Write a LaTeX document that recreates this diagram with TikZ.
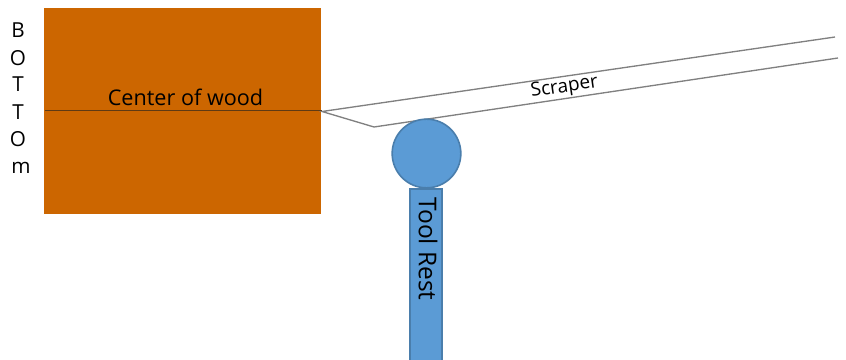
\documentclass[tikz,border=0pt]{standalone}
\usepackage{fontspec}
\setmainfont{Open Sans}
\definecolor{wood}{HTML}{CC6600}
\definecolor{restblue}{HTML}{5B9BD5}
\definecolor{restedge}{HTML}{4A7EAC}
\definecolor{scrapeline}{HTML}{808080}
\definecolor{woodline}{HTML}{5E3A14}
\tikzset{
  px/.style={x=0.75pt,y=-0.75pt},
  woodblock/.style={fill=wood,draw=none,minimum width=207.8pt,minimum height=154.5pt,inner sep=0pt,anchor=north west},
  restshape/.style={fill=restblue,draw=restedge,line width=1.2pt,inner sep=0pt},
  scraperedge/.style={draw=scrapeline,line width=1pt,line join=miter},
  label/.style={font=\fontsize{16.2pt}{19pt}\selectfont,text=black,inner sep=0pt},
  sidetext/.style={font=\fontsize{15.5pt}{18pt}\selectfont,text=black,inner sep=0pt,anchor=base}
}
\begin{document}
\begin{tikzpicture}[px]
\useasboundingbox (0,0) rectangle (846,360);
\node[woodblock] (woodbox) at (44,8) {};
\coordinate (lineL) at (45,110.5);
\coordinate (lineR) at (322,110.5);
\coordinate (tip) at (322,111.5);
\coordinate (heel) at (374,127);
\coordinate (topEnd) at (835,37);
\coordinate (lowEnd) at (838,58);
\draw[draw=woodline,line width=1pt] (lineL) -- (lineR);
\draw[scraperedge] (topEnd) -- (tip) -- (heel) -- (lowEnd);
\node[restshape,anchor=north,minimum width=24pt,minimum height=129pt] (rest) at (426,188) {};
\node[restshape,circle,minimum size=51.5pt] (ball) at (426.5,153.5) {};
\node[label,anchor=base] (center) at (185.5,106) {Center of wood};
\node[font=\fontsize{14.3pt}{17pt}\selectfont,inner sep=0pt,rotate=8.2] (scraper) at (564.5,87.5) {Scraper};
\node[font=\fontsize{18.4pt}{22pt}\selectfont,inner sep=0pt,rotate=-90] (toolrest) at (428,249) {Tool Rest};
\node[sidetext] (b1) at (18,37.5) {B};
\node[sidetext] (b2) at (18,65) {O};
\node[sidetext] (b3) at (18,91.5) {T};
\node[sidetext] (b4) at (18,119) {T};
\node[sidetext] (b5) at (18,146) {O};
\node[sidetext] (b6) at (21,173) {m};
\end{tikzpicture}
\end{document}
